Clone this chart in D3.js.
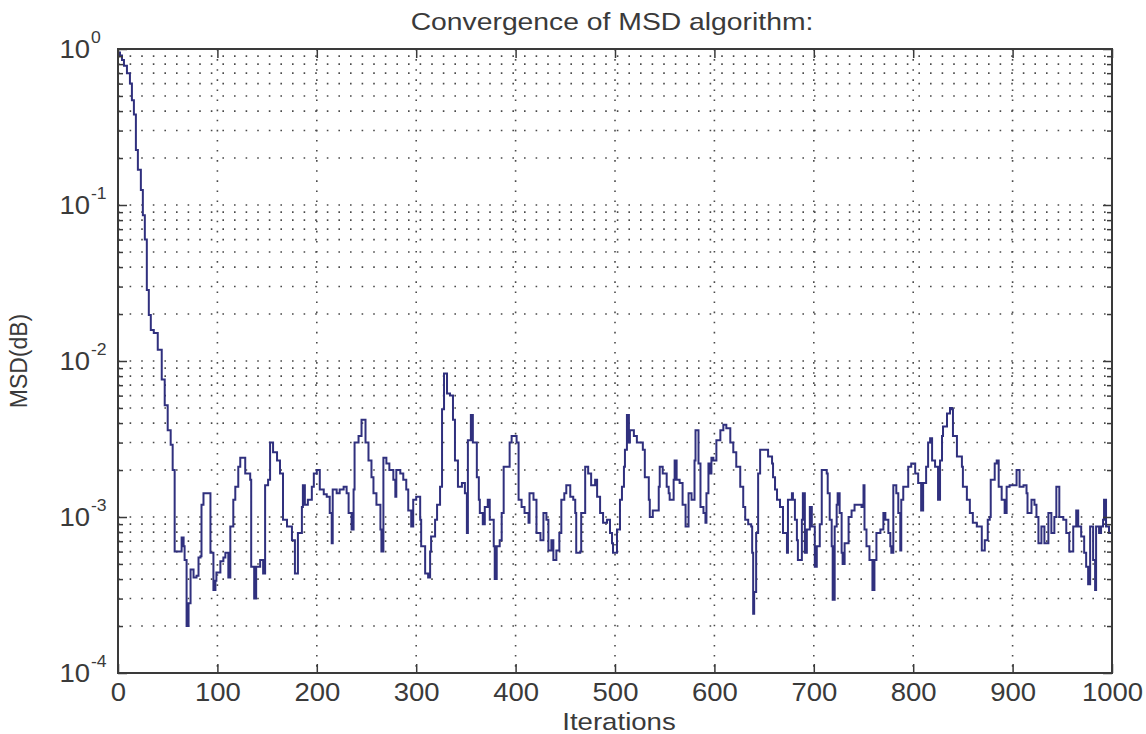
<!DOCTYPE html>
<html>
<head>
<meta charset="utf-8">
<script src="https://cdn.jsdelivr.net/npm/d3@7"></script>
<style>
  html, body { margin: 0; padding: 0; background: #fff; }
  svg text { font-family: "Liberation Sans", Arial, Helvetica, sans-serif; fill: #3a3a3a; }
</style>
</head>
<body>
<svg id="chart" width="1146" height="734"></svg>
<script>
// ---------------- data ----------------
const titleText = "Convergence of MSD algorithm:";
const xLabel = "Iterations";
const yLabel = "MSD(dB)";
const xTicks = [0, 100, 200, 300, 400, 500, 600, 700, 800, 900, 1000];
const yTickExponents = [0, -1, -2, -3, -4];

const iterations = [
  0, 2, 4, 6, 9, 12, 14, 16, 18, 20, 23, 25, 27, 29, 31, 33, 36, 40, 44, 47, 50, 53, 55,
  57, 61, 64, 66, 67, 69, 71, 73, 76, 79, 81, 83, 84, 86, 91, 93, 96, 98, 99, 103, 106, 108,
  111, 113, 116, 118, 121, 123, 128, 133, 134, 137, 139, 143, 146, 148, 151, 153, 156, 160,
  163, 166, 170, 175, 178, 181, 185, 186, 188, 191, 195, 197, 200, 203, 207, 210, 213, 215,
  216, 220, 223, 227, 230, 232, 235, 237, 238, 242, 245, 249,
  252, 255, 257, 260, 264, 265, 267, 270, 273, 277, 279, 280, 284, 287, 290, 292, 295, 297,
  300, 304, 305, 309, 312, 314, 315, 319, 321, 324, 326, 328, 331, 334, 337, 339, 342, 346,
  349, 351, 352, 355, 357, 361, 363, 364, 367, 369, 372, 374, 378, 379, 381, 384, 386, 388,
  391, 394, 396, 401, 403, 406, 409, 413, 414, 418, 421, 425, 428, 431, 433, 436, 438, 441,
  444, 446, 449,
  451, 455, 458, 460, 461, 465, 466, 470, 473, 476, 480, 482, 485, 488, 492, 495, 497, 498,
  502, 505, 507, 509, 510, 512, 514, 515, 519, 522, 525, 528, 530, 534, 535, 538, 542, 544,
  545, 548, 552, 554, 555, 559, 560, 562, 565, 568, 571, 574, 577, 580, 581, 584, 586, 589,
  591, 592, 594, 596, 597, 599, 602, 606, 609, 612, 616, 619, 622, 626, 629, 631, 634, 637,
  638, 639, 640, 642,
  644, 646, 649, 654, 658, 659, 661, 663, 666, 669, 673, 674, 678, 679, 681, 683, 684, 688,
  689, 691, 693, 696, 698, 701, 703, 706, 708, 711, 713, 714, 716, 718, 719, 721, 723, 724,
  726, 728, 729, 731, 735, 738, 741, 745, 748, 750, 751, 753, 756, 759, 761, 763, 767, 770,
  772, 775, 777, 778, 780, 783, 785, 787, 788, 790, 793, 795, 798, 802, 805, 808, 810, 813,
  815, 817, 819, 822, 825, 827, 829, 830, 834, 837,
  839, 840, 844, 849, 850, 854, 857, 860, 864, 867, 869, 872, 875, 877, 878, 882, 884, 886,
  889, 892, 894, 897, 900, 904, 907, 911, 914, 915, 919, 922, 924, 926, 929, 932, 936, 937,
  939, 942, 944, 947, 951, 954, 957, 961, 964, 966, 969, 972, 974, 976, 978, 981, 983, 984,
  987, 989, 991, 992, 994, 997, 1000
];

const msdValues = [
  0.95, 0.91, 0.85, 0.78, 0.70, 0.60, 0.47, 0.38, 0.225, 0.168, 0.125, 0.086, 0.060, 0.0285,
  0.0197, 0.0158, 0.0151, 0.0118, 0.0076, 0.0052, 0.0036, 0.0029, 0.0020,
  6.0e-4, 6.0e-4, 7.4e-4, 6.5e-4, 5.3e-4, 2.0e-4, 2.8e-4, 4.6e-4, 4.1e-4, 4.2e-4, 5.5e-4,
  5.6e-4, 1.2e-3, 1.42e-3, 1.42e-3, 5.9e-4, 3.4e-4, 3.9e-4, 4.4e-4, 5.2e-4, 5.5e-4, 5.9e-4,
  4.1e-4, 8.7e-4, 1.29e-3, 1.56e-3, 2.1e-3, 2.4e-3, 1.9e-3, 1.73e-3, 4.8e-4, 3.0e-4, 4.8e-4,
  5.3e-4, 4.35e-4, 1.6e-3, 1.73e-3, 3.0e-3, 2.6e-3, 2.3e-3, 1.9e-3, 9.6e-4, 8.7e-4, 7.1e-4,
  4.35e-4, 7.9e-4, 1.16e-3, 1.6e-3, 1.2e-3, 1.29e-3, 1.56e-3, 1.9e-3, 2.0e-3, 1.5e-3, 1.4e-3,
  1.35e-3, 1.06e-3, 6.8e-4, 1.5e-3, 1.42e-3, 1.5e-3, 1.56e-3, 1.42e-3, 1.06e-3, 8.3e-4,
  1.5e-3, 3.0e-3, 3.3e-3, 4.2e-3, 3.0e-3,
  2.3e-3, 1.8e-3, 1.42e-3, 1.2e-3, 8.3e-4, 6.0e-4, 2.4e-3, 2.2e-3, 2.0e-3, 1.73e-3, 1.35e-3,
  2.0e-3, 1.9e-3, 1.73e-3, 1.5e-3, 1.1e-3, 8.7e-4, 1.29e-3, 1.35e-3, 9.6e-4, 6.5e-4, 4.35e-4,
  4.1e-4, 6.0e-4, 7.5e-4, 9.6e-4, 1.2e-3, 1.56e-3, 4.9e-3, 8.3e-3, 6.2e-3, 6.0e-3, 4.2e-3,
  2.3e-3, 1.56e-3, 1.65e-3, 1.42e-3, 7.9e-4, 3.1e-3, 4.5e-3, 3.0e-3, 1.8e-3, 1.29e-3,
  1.06e-3, 9.0e-4, 1.16e-3, 1.29e-3, 9.6e-4, 6.5e-4, 4.0e-4, 6.5e-4, 7.1e-4, 1.06e-3,
  2.1e-3, 2.1e-3, 3.0e-3, 3.3e-3, 3.0e-3, 1.29e-3, 1.16e-3, 1.06e-3, 9.2e-4, 1.42e-3,
  1.29e-3, 7.9e-4, 7.1e-4, 1.06e-3, 9.6e-4, 6.1e-4, 7.1e-4, 5.3e-4, 6.1e-4, 7.9e-4, 1.29e-3,
  1.42e-3,
  1.6e-3, 1.35e-3, 1.29e-3, 1.06e-3, 5.9e-4, 6.0e-4, 1.06e-3, 2.1e-3, 1.9e-3, 1.6e-3,
  1.73e-3, 1.35e-3, 1.06e-3, 9.2e-4, 9.6e-4, 7.9e-4, 6.8e-4, 5.9e-4, 8.3e-4, 1.29e-3,
  1.56e-3, 2.1e-3, 2.7e-3, 4.5e-3, 3.0e-3, 3.6e-3, 3.3e-3, 3.0e-3, 3.0e-3, 2.7e-3, 1.8e-3,
  1.29e-3, 1.0e-3, 1.1e-3, 1.1e-3, 1.56e-3, 2.1e-3, 1.9e-3, 1.56e-3, 1.42e-3, 1.29e-3,
  1.73e-3, 2.3e-3, 1.73e-3, 1.65e-3, 1.2e-3, 8.7e-4, 1.42e-3, 1.29e-3, 2.3e-3, 3.6e-3,
  2.2e-3, 1.16e-3, 1.06e-3, 9.2e-4, 1.42e-3, 2.2e-3, 1.9e-3, 2.4e-3, 2.3e-3, 3.1e-3, 3.6e-3,
  3.9e-3, 3.7e-3, 3.0e-3, 2.6e-3, 2.1e-3, 1.56e-3, 1.16e-3, 9.6e-4, 9.0e-4, 8.7e-4, 5.9e-4,
  2.4e-4, 3.3e-4, 7.9e-4,
  1.9e-3, 2.7e-3, 2.7e-3, 2.44e-3, 2.2e-3, 1.8e-3, 1.5e-3, 1.29e-3, 1.16e-3, 7.9e-4, 5.9e-4,
  1.29e-3, 1.42e-3, 1.29e-3, 9.6e-4, 7.1e-4, 5.3e-4, 9.6e-4, 1.42e-3, 5.9e-4, 8.3e-4,
  1.16e-3, 8.7e-4, 4.8e-4, 6.5e-4, 9.0e-4, 2.0e-3, 2.0e-3, 1.9e-3, 1.42e-3, 9.6e-4, 6.5e-4,
  2.95e-4, 8.7e-4, 1.2e-3, 1.42e-3, 1.06e-3, 5.9e-4, 5.0e-4, 6.8e-4, 1.0e-3, 1.1e-3, 1.2e-3,
  1.2e-3, 1.16e-3, 1.6e-3, 8.3e-4, 6.5e-4, 5.3e-4, 3.4e-4, 5.3e-4, 7.9e-4, 8.3e-4, 1.06e-3,
  9.6e-4, 7.9e-4, 6.5e-4, 5.9e-4, 1.6e-3, 1.42e-3, 1.06e-3, 6.1e-4, 1.29e-3, 1.56e-3,
  1.56e-3, 2.1e-3, 2.2e-3, 1.9e-3, 1.65e-3, 1.1e-3, 1.65e-3, 2.1e-3, 3.0e-3, 3.2e-3, 2.3e-3,
  2.1e-3, 1.29e-3, 2.3e-3, 3.3e-3, 3.8e-3, 4.6e-3, 5.0e-3,
  4.9e-3, 3.3e-3, 2.44e-3, 2.1e-3, 1.56e-3, 1.29e-3, 1.06e-3, 9.2e-4, 8.7e-4, 8.7e-4,
  6.1e-4, 7.1e-4, 9.6e-4, 1.0e-3, 1.73e-3, 2.2e-3, 2.3e-3, 1.56e-3, 1.29e-3, 1.06e-3,
  1.56e-3, 1.6e-3, 1.6e-3, 2.0e-3, 1.56e-3, 1.6e-3, 1.42e-3, 1.06e-3, 1.29e-3, 1.2e-3,
  1.0e-3, 6.8e-4, 8.7e-4, 6.8e-4, 1.06e-3, 1.06e-3, 7.9e-4, 1.0e-3, 1.56e-3, 1.0e-3, 9.6e-4,
  7.9e-4, 6.0e-4, 8.7e-4, 1.1e-3, 8.7e-4, 7.5e-4, 5.9e-4, 4.8e-4, 3.7e-4, 8.7e-4, 5.3e-4,
  3.4e-4, 8.7e-4, 7.9e-4, 8.7e-4, 9.6e-4, 1.29e-3, 8.7e-4, 7.9e-4, 8.7e-4
];

// ---------------- layout ----------------
const svg = d3.select("#chart");
const margin = { left: 118, right: 1112, top: 49, bottom: 673 };

const x = d3.scaleLinear().domain([0, 1000]).range([margin.left, margin.right]);
const y = d3.scaleLog().domain([1e-4, 1]).range([margin.bottom, margin.top]);

const majorY = yTickExponents.map(e => Math.pow(10, e));
const minorY = [];
for (let e = -4; e < 0; e++) {
  for (let m = 2; m <= 9; m++) minorY.push(m * Math.pow(10, e));
}
const allGridY = majorY.concat(minorY).filter(v => v > 1e-4 && v < 1);

const axisColor = "#3a3a3a";
const gridColor = "#4a4a4a";
const textColor = "#3a3a3a";
const FONT = "'Liberation Sans', Arial, sans-serif";

// grid
const grid = svg.append("g");
grid.selectAll("line.gy").data(allGridY).join("line")
  .attr("x1", margin.left).attr("x2", margin.right)
  .attr("y1", d => y(d)).attr("y2", d => y(d))
  .attr("stroke", gridColor).attr("stroke-width", 1.6)
  .attr("stroke-dasharray", "1.6,10");
grid.selectAll("line.gx").data(xTicks.filter(t => t > 0 && t < 1000)).join("line")
  .attr("x1", d => x(d)).attr("x2", d => x(d))
  .attr("y1", margin.top).attr("y2", margin.bottom)
  .attr("stroke", gridColor).attr("stroke-width", 1.6)
  .attr("stroke-dasharray", "1.6,8.5");

// data line
const pts = iterations.map((it, i) => [it, msdValues[i]]);
const line = d3.line().x(d => x(d[0])).y(d => y(d[1])).curve(d3.curveStepAfter);
svg.append("path").datum(pts)
  .attr("d", line)
  .attr("fill", "none")
  .attr("stroke", "#30307e")
  .attr("stroke-width", 2)
  .attr("stroke-linejoin", "miter");

// axes (ticks inside)
function styleAxis(g) {
  g.select(".domain").remove();
  g.selectAll(".tick line").attr("stroke", axisColor).attr("stroke-width", 1.5);
}
const xAxisG = svg.append("g").attr("transform", `translate(0,${margin.bottom})`)
  .call(d3.axisBottom(x).tickValues(xTicks).tickFormat(d3.format("d"))
    .tickSizeInner(-9).tickSizeOuter(0).tickPadding(10))
  .call(styleAxis);
// stretch tick labels horizontally like the reference
xAxisG.selectAll(".tick text")
  .attr("font-size", 25).attr("fill", textColor).attr("font-family", FONT)
  .attr("transform", "scale(1.1,1)");
svg.append("g").attr("transform", `translate(0,${margin.top})`)
  .call(d3.axisTop(x).tickValues(xTicks).tickSizeInner(-9).tickSizeOuter(0).tickFormat(""))
  .call(styleAxis);
svg.append("g").attr("transform", `translate(${margin.left},0)`)
  .call(d3.axisLeft(y).tickValues(majorY).tickSizeInner(-9).tickSizeOuter(0).tickFormat(""))
  .call(styleAxis);
svg.append("g").attr("transform", `translate(${margin.left},0)`)
  .call(d3.axisLeft(y).tickValues(minorY).tickSizeInner(-5).tickSizeOuter(0).tickFormat(""))
  .call(styleAxis);
svg.append("g").attr("transform", `translate(${margin.right},0)`)
  .call(d3.axisRight(y).tickValues(majorY).tickSizeInner(-9).tickSizeOuter(0).tickFormat(""))
  .call(styleAxis);
svg.append("g").attr("transform", `translate(${margin.right},0)`)
  .call(d3.axisRight(y).tickValues(minorY).tickSizeInner(-5).tickSizeOuter(0).tickFormat(""))
  .call(styleAxis);

// y tick labels 10^e
const yl = svg.append("g").attr("font-family", FONT).attr("fill", textColor);
yTickExponents.forEach(e => {
  const yy = y(Math.pow(10, e));
  yl.append("text")
    .attr("transform", `translate(90,${yy + 9}) scale(1.1,1)`)
    .attr("text-anchor", "end").attr("font-size", 25).text("10");
  yl.append("text")
    .attr("transform", `translate(91,${yy - 6}) scale(1.1,1)`)
    .attr("text-anchor", "start").attr("font-size", 16)
    .text(e === 0 ? "0" : String(e));
});

// frame
svg.append("rect")
  .attr("x", margin.left).attr("y", margin.top)
  .attr("width", margin.right - margin.left).attr("height", margin.bottom - margin.top)
  .attr("fill", "none").attr("stroke", axisColor).attr("stroke-width", 2);

// titles
svg.append("text")
  .attr("transform", `translate(${(margin.left + margin.right) / 2 - 3},30) scale(1.18,1)`)
  .attr("text-anchor", "middle").attr("font-size", 24).text(titleText);
svg.append("text")
  .attr("transform", `translate(${(margin.left + margin.right) / 2 + 4},730) scale(1.15,1)`)
  .attr("text-anchor", "middle").attr("font-size", 24).text(xLabel);
svg.append("text")
  .attr("transform", `translate(27,${(margin.top + margin.bottom) / 2}) rotate(-90)`)
  .attr("text-anchor", "middle").attr("font-size", 23).text(yLabel);
</script>
</body>
</html>
